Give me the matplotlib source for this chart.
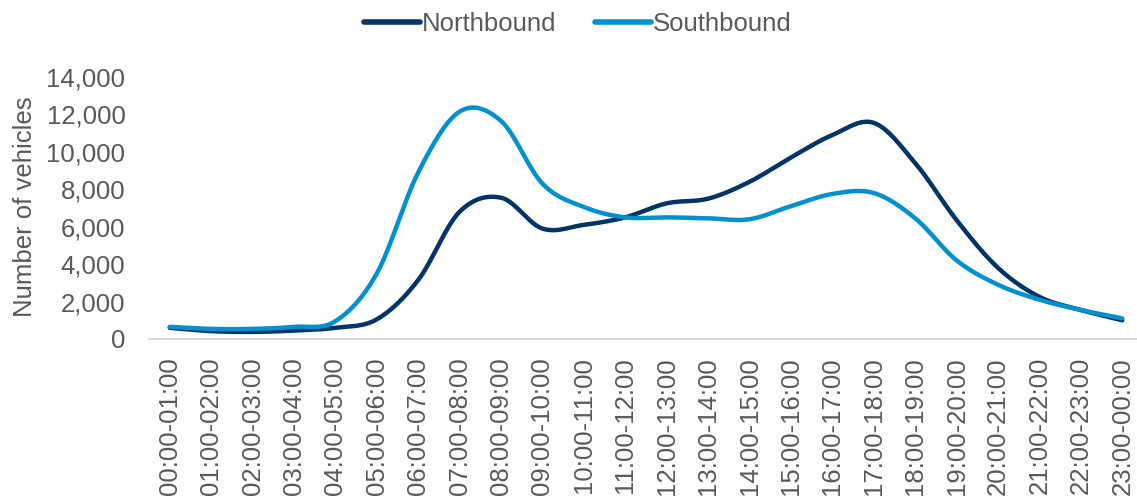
import numpy as np
import matplotlib
matplotlib.use('Agg')
import matplotlib.pyplot as plt

plt.rcParams['font.family'] = ['Liberation Sans', 'DejaVu Sans']

hours = ['00:00-01:00', '01:00-02:00', '02:00-03:00', '03:00-04:00', '04:00-05:00',
         '05:00-06:00', '06:00-07:00', '07:00-08:00', '08:00-09:00', '09:00-10:00',
         '10:00-11:00', '11:00-12:00', '12:00-13:00', '13:00-14:00', '14:00-15:00',
         '15:00-16:00', '16:00-17:00', '17:00-18:00', '18:00-19:00', '19:00-20:00',
         '20:00-21:00', '21:00-22:00', '22:00-23:00', '23:00-00:00']
northbound = [600, 420, 380, 450, 600, 1050, 3150, 6800, 7550, 5900,
              6100, 6500, 7250, 7500, 8400, 9700, 10900, 11550, 9400, 6350,
              3800, 2250, 1550, 1000]
southbound = [650, 540, 540, 650, 950, 3500, 8900, 12150, 11650, 8300,
              7050, 6500, 6500, 6450, 6400, 7100, 7750, 7800, 6450, 4200,
              2900, 2100, 1550, 1100]

grey = '#595959'
c_north = '#003366'
c_south = '#0090CF'


def smooth(y, n=30):
    # catmull-rom curve through the points, like Excel's smoothed line
    y = np.asarray(y, float)
    x = np.arange(len(y), dtype=float)
    px = np.concatenate([[2 * x[0] - x[1]], x, [2 * x[-1] - x[-2]]])
    py = np.concatenate([[2 * y[0] - y[1]], y, [2 * y[-1] - y[-2]]])
    xs, ys = [], []
    t = np.linspace(0, 1, n, endpoint=False)
    for i in range(1, len(px) - 2):
        for p, out in ((px, xs), (py, ys)):
            p0, p1, p2, p3 = p[i - 1], p[i], p[i + 1], p[i + 2]
            out.extend(0.5 * ((2 * p1) + (-p0 + p2) * t
                              + (2 * p0 - 5 * p1 + 4 * p2 - p3) * t ** 2
                              + (-p0 + 3 * p1 - 3 * p2 + p3) * t ** 3))
    xs.append(x[-1])
    ys.append(y[-1])
    return np.array(xs), np.array(ys)


fig = plt.figure(figsize=(11.37, 4.97), dpi=100)
ax = fig.add_axes([149 / 1137, 158 / 497, 994 / 1137, 262 / 497])

sx, sy = smooth(northbound)
ax.plot(sx, sy, color=c_north, lw=3.2, solid_capstyle='round', label='Northbound')
sx, sy = smooth(southbound)
ax.plot(sx, sy, color=c_south, lw=3.2, solid_capstyle='round', label='Southbound')

ax.set_xlim(-0.5, len(hours) - 0.5)
ax.set_ylim(0, 14000)
ax.set_yticks(range(0, 14001, 2000))
ax.set_yticklabels([f'{v:,}' for v in range(0, 14001, 2000)])
ax.set_xticks(range(len(hours)))
ax.set_xticklabels(hours, rotation=90, va='top')
ax.tick_params(axis='both', length=0, labelsize=18.5, labelcolor=grey)
ax.tick_params(axis='y', pad=17)
ax.tick_params(axis='x', pad=13)
for s in ['top', 'right', 'left']:
    ax.spines[s].set_visible(False)
ax.spines['bottom'].set_color('#D9D9D9')
ax.spines['bottom'].set_linewidth(1.5)

fig.text(25 / 1137, 0.584, 'Number of vehicles', rotation=90, ha='center', va='center',
         fontsize=18.5, color=grey)

leg = fig.legend(loc='center', bbox_to_anchor=(0.508, 0.952), ncol=2, frameon=False,
                 fontsize=18.5, labelcolor=grey, handlelength=2.2, handletextpad=0.05,
                 columnspacing=1.5)
for h in leg.get_lines():
    h.set_linewidth(4)

fig.savefig('out.png', dpi=100)
